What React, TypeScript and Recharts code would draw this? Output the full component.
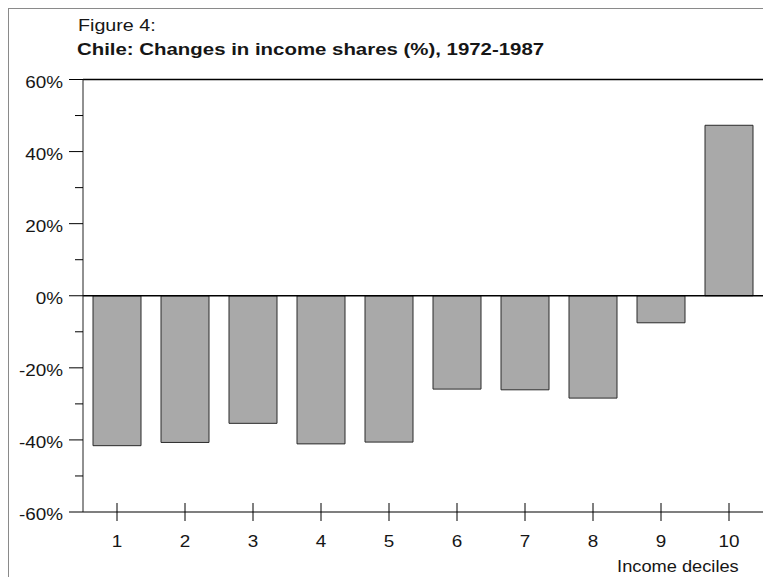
import { BarChart, Bar, XAxis, YAxis, ReferenceLine } from "recharts";

// change in income share by decile, 1972-1987 (%)
const deciles = ["1", "2", "3", "4", "5", "6", "7", "8", "9", "10"];
const shareChange = [-41.6, -40.7, -35.4, -41.1, -40.6, -25.9, -26.1, -28.4, -7.5, 47.3];
const yTicks = [-60, -50, -40, -30, -20, -10, 0, 10, 20, 30, 40, 50, 60];
const majorTicks = [-60, -40, -20, 0, 20, 40, 60];

const data = deciles.map((d, i) => ({ decile: d, change: shareChange[i] }));

const W = 755;
const H = 569;
const AXIS_W = 75;
const XAXIS_H = 65;
const FONT = "'Liberation Sans', Arial, Helvetica, sans-serif";
const INK = "#161616";

function YTick({ y, payload }: any) {
  const major = majorTicks.includes(payload.value);
  return (
    <g>
      <line x1={AXIS_W - (major ? 14 : 8)} x2={AXIS_W} y1={y} y2={y} stroke="#000" />
      {major && (
        <g transform={`translate(${AXIS_W - 20},${y + 8}) scale(1.18,1)`}>
          <text textAnchor="end" fontSize={16} fill={INK} fontFamily={FONT}>
            {payload.value}%
          </text>
        </g>
      )}
    </g>
  );
}

function XTick({ x, payload }: any) {
  const base = H - XAXIS_H;
  return (
    <g>
      <line x1={x} x2={x} y1={base - 9} y2={base + 9} stroke="#000" />
      <g transform={`translate(${x},${base + 34.7}) scale(1.18,1)`}>
        <text textAnchor="middle" fontSize={16} fill={INK} fontFamily={FONT}>
          {payload.value}
        </text>
      </g>
    </g>
  );
}

export default function App() {
  return (
    <div
      style={{
        position: "fixed", top: 8, left: 8, width: W, height: H,
        overflow: "hidden", background: "#fff", fontFamily: FONT, color: INK,
      }}
    >
      <div style={{
        position: "absolute", left: 0, top: 0, right: 0, bottom: 0,
        borderLeft: "1px solid #8a8a8a", borderTop: "1px solid #8a8a8a",
        pointerEvents: "none",
      }} />
      <div style={{
        position: "absolute", left: 70.4, top: 9.5, fontSize: 16, lineHeight: "16px",
        whiteSpace: "nowrap", transform: "scaleX(1.23)", transformOrigin: "left",
      }}>
        Figure 4:
      </div>
      <div style={{
        position: "absolute", left: 69.3, top: 32.6, fontSize: 17, lineHeight: "17px",
        fontWeight: 700, whiteSpace: "nowrap", transform: "scaleX(1.2)", transformOrigin: "left",
      }}>
        Chile: Changes in income shares (%), 1972-1987
      </div>
      <div style={{
        position: "absolute", right: W - 730.3, top: 551, fontSize: 16, lineHeight: "16px",
        whiteSpace: "nowrap", transform: "scaleX(1.14)", transformOrigin: "right",
      }}>
        Income deciles
      </div>
      <div style={{ position: "absolute", left: 0, top: 0 }}>
        <BarChart
          width={W}
          height={H}
          data={data}
          margin={{ top: 71.5, right: 0, left: 0, bottom: 0 }}
          barCategoryGap={10}
        >
          <XAxis
            dataKey="decile"
            height={XAXIS_H}
            axisLine={{ stroke: "#000", strokeWidth: 1.2 }}
            tickLine={false}
            tick={(p: any) => <XTick {...p} />}
            interval={0}
          />
          <YAxis
            width={AXIS_W}
            domain={[-60, 60]}
            ticks={yTicks}
            interval={0}
            allowDataOverflow
            axisLine={{ stroke: "#222" }}
            tickLine={false}
            tick={(p: any) => <YTick {...p} />}
          />
          <Bar
            dataKey="change"
            fill="#a9a9a9"
            stroke="#2a2a2a"
            strokeWidth={1}
            isAnimationActive={false}
          />
          <ReferenceLine y={0} stroke="#000" strokeWidth={1.6} />
          <ReferenceLine y={60} stroke="#000" strokeWidth={1.6} />
        </BarChart>
      </div>
    </div>
  );
}
